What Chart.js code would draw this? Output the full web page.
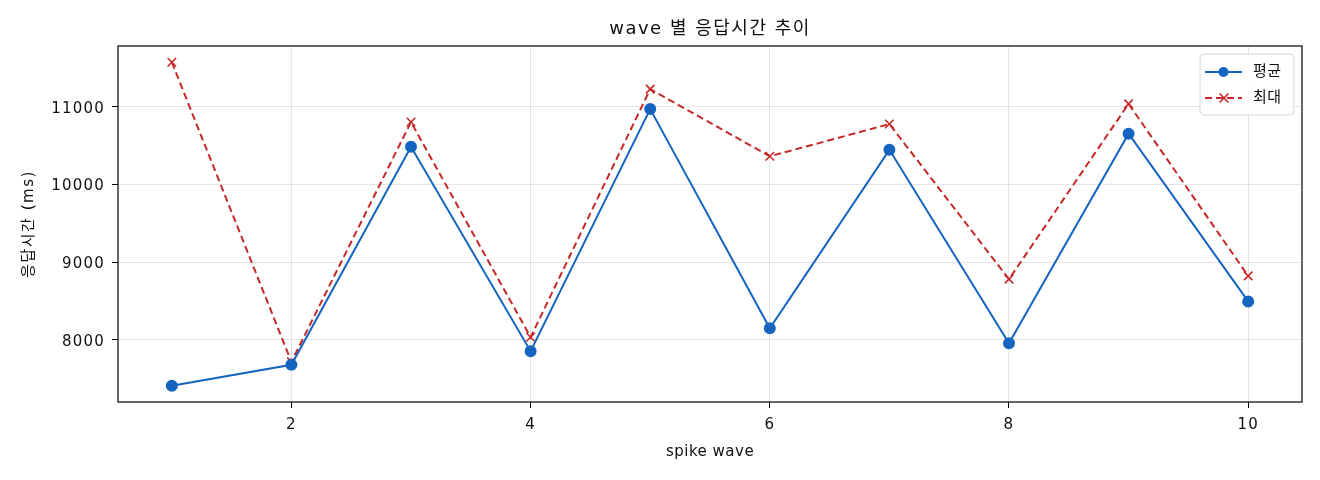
<!DOCTYPE html>
<html>
<head>
<meta charset="utf-8">
<script src="https://cdn.jsdelivr.net/npm/chart.js@4.4.1/dist/chart.umd.min.js"></script>
<style>
  html, body { margin: 0; padding: 0; background: #fff; }
  #wrap { width: 1320px; height: 480px; }
</style>
</head>
<body>
<div id="wrap"><canvas id="waveChart"></canvas></div>
<script>
// spike wave 번호
const waves = [1, 2, 3, 4, 5, 6, 7, 8, 9, 10];
// 평균 응답시간 (ms)
const avgMs = [7410, 7680, 10487, 7855, 10970, 8150, 10446, 7958, 10654, 8496];
// 최대 응답시간 (ms)
const maxMs = [11573, 7718, 10804, 8035, 11227, 10363, 10778, 8782, 11038, 8824];
const xTicks = [2, 4, 6, 8, 10];
const yTicks = [8000, 9000, 10000, 11000];

const FONT = "'DejaVu Sans', 'Noto Sans CJK KR', sans-serif";
const BLUE = "#1565c0";
const RED = "#c62828";

// a bit of letter spacing for the tick labels, the reference font is wide
const spacingPlugin = {
    id: "spacing",
    beforeDraw(chart) { chart.ctx.letterSpacing = "1.2px"; },
};

// title, axis titles, frame and legend drawn in matplotlib style
const decorPlugin = {
    id: "decor",
    afterDatasetsDraw(chart) {
        const { ctx, chartArea: a } = chart;
        ctx.save();
        ctx.strokeStyle = "#000";
        ctx.lineWidth = 1.2;
        ctx.strokeRect(a.left, a.top, a.right - a.left, a.bottom - a.top);

        ctx.fillStyle = "#111";
        ctx.textAlign = "center";
        ctx.textBaseline = "middle";
        ctx.letterSpacing = "1.5px";
        ctx.font = "18px " + FONT;
        ctx.fillText("wave 별 응답시간 추이", (a.left + a.right) / 2, 29);

        ctx.letterSpacing = "0.5px";
        ctx.font = "15px " + FONT;
        ctx.fillText("spike wave", (a.left + a.right) / 2, 452);

        ctx.letterSpacing = "1.5px";
        ctx.translate(29, (a.top + a.bottom) / 2);
        ctx.rotate(-Math.PI / 2);
        ctx.fillText("응답시간 (ms)", 0, 0);
        ctx.restore();

        // legend
        ctx.save();
        ctx.letterSpacing = "0.5px";
        const bx = 1200, by = 54, bw = 94, bh = 61;
        ctx.fillStyle = "rgba(255,255,255,0.85)";
        ctx.strokeStyle = "#d6d6d6";
        ctx.lineWidth = 1;
        ctx.beginPath();
        ctx.roundRect(bx, by, bw, bh, 4);
        ctx.fill();
        ctx.stroke();

        chart.data.datasets.forEach((ds, i) => {
            const ly = 72 + i * 26;
            ctx.strokeStyle = ds.borderColor;
            ctx.lineWidth = 2;
            ctx.setLineDash(ds.borderDash || []);
            ctx.beginPath();
            ctx.moveTo(1205, ly);
            ctx.lineTo(1242, ly);
            ctx.stroke();
            ctx.setLineDash([]);
            if (ds.pointStyle === "circle") {
                ctx.fillStyle = ds.pointBackgroundColor;
                ctx.beginPath();
                ctx.arc(1223.5, ly, 5, 0, Math.PI * 2);
                ctx.fill();
            } else {
                ctx.lineWidth = 1.6;
                ctx.beginPath();
                ctx.moveTo(1219.5, ly - 4.5); ctx.lineTo(1228.5, ly + 4.5);
                ctx.moveTo(1228.5, ly - 4.5); ctx.lineTo(1219.5, ly + 4.5);
                ctx.stroke();
            }
            ctx.fillStyle = "#111";
            ctx.font = "15px " + FONT;
            ctx.textAlign = "left";
            ctx.textBaseline = "middle";
            ctx.fillText(ds.label, 1253, ly);
        });
        ctx.restore();
    }
};

const ctx = document.getElementById("waveChart").getContext("2d");
new Chart(ctx, {
    type: "line",
    data: {
        datasets: [
            {
                label: "평균",
                data: waves.map((w, i) => ({ x: w, y: avgMs[i] })),
                borderColor: BLUE,
                backgroundColor: BLUE,
                pointBackgroundColor: BLUE,
                pointBorderColor: BLUE,
                pointStyle: "circle",
                pointRadius: 5,
                borderWidth: 2,
                tension: 0,
            },
            {
                label: "최대",
                data: waves.map((w, i) => ({ x: w, y: maxMs[i] })),
                borderColor: RED,
                backgroundColor: RED,
                pointBorderColor: RED,
                pointStyle: "crossRot",
                pointRadius: 6,
                pointBorderWidth: 1.6,
                borderWidth: 2,
                borderDash: [7, 4],
                tension: 0,
            },
        ],
    },
    options: {
        responsive: true,
        maintainAspectRatio: false,
        animation: false,
        layout: { padding: { top: 46, right: 18, left: 0, bottom: 0 } },
        plugins: {
            legend: { display: false },
            title: { display: false },
            tooltip: { enabled: false },
        },
        scales: {
            x: {
                type: "linear",
                min: 0.55,
                max: 10.45,
                afterBuildTicks: (s) => { s.ticks = xTicks.map(v => ({ value: v })); },
                afterFit: (s) => { s.height = 78; },
                border: { display: false },
                grid: { color: "rgba(0,0,0,0.1)", tickColor: "#000", tickLength: 6, tickWidth: 1 },
                ticks: { color: "#111", font: { family: FONT, size: 15 }, padding: 8, maxRotation: 0 },
            },
            y: {
                type: "linear",
                min: 7202,
                max: 11782,
                afterBuildTicks: (s) => { s.ticks = yTicks.map(v => ({ value: v })); },
                afterFit: (s) => { s.width = 118; },
                border: { display: false },
                grid: { color: "rgba(0,0,0,0.1)", tickColor: "#000", tickLength: 6, tickWidth: 1 },
                ticks: { color: "#111", font: { family: FONT, size: 15 }, padding: 7, labelOffset: 2, callback: (v) => String(v) },
            },
        },
    },
    plugins: [spacingPlugin, decorPlugin],
});
</script>
</body>
</html>
